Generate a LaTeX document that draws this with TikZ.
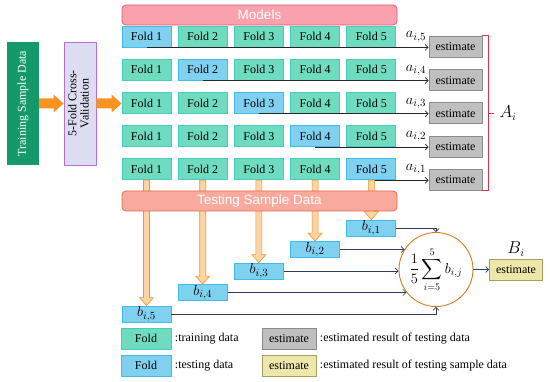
\documentclass[tikz,border=0pt]{standalone}
\usepackage{amsmath}
\usepackage{fontspec}
\setmainfont{Liberation Serif}
\newfontfamily\arialfont{Liberation Sans}
\usetikzlibrary{arrows.meta,calc}
\definecolor{foldgreen}{HTML}{6FDCBF}
\definecolor{foldgreenb}{HTML}{45CCC4}
\definecolor{foldblue}{HTML}{80D0F0}
\definecolor{foldblueb}{HTML}{3DBDE8}
\definecolor{estgray}{HTML}{BFBFBF}
\definecolor{estgrayb}{HTML}{8C8C8C}
\definecolor{estyel}{HTML}{EDE7A9}
\definecolor{estyelb}{HTML}{A39C63}
\definecolor{modpink}{HTML}{F9A1AC}
\definecolor{modpinkb}{HTML}{E8596B}
\definecolor{testsal}{HTML}{F9AA9C}
\definecolor{testsalb}{HTML}{E26A52}
\definecolor{tsdgreen}{HTML}{15996A}
\definecolor{cvlav}{HTML}{DCDDF0}
\definecolor{cvpurp}{HTML}{B46FD8}
\definecolor{arrorange}{HTML}{F7931E}
\definecolor{lineblue}{HTML}{2F3E63}
\definecolor{bracketred}{HTML}{DE3049}
% solid orange arrow pointing right, from #1 to #2
\newcommand\solidright[2]{%
  \fill[arrorange] let \p1=(#1), \p2=(#2) in
    (\x1,\y1+5pt) -- (\x2-10pt,\y1+5pt) -- (\x2-10pt,\y1+9pt) -- (\x2,\y1)
    -- (\x2-10pt,\y1-9pt) -- (\x2-10pt,\y1-5pt) -- (\x1,\y1-5pt) -- cycle;}
% light block arrow pointing down, from #1 to #2
\newcommand\blockdown[2]{%
  \draw[blockarr] let \p1=(#1), \p2=(#2) in
    (\x1-3pt,\y1) -- (\x1-3pt,\y2+8pt) -- (\x1-7pt,\y2+8pt) -- (\x1,\y2)
    -- (\x1+7pt,\y2+8pt) -- (\x1+3pt,\y2+8pt) -- (\x1+3pt,\y1) -- cycle;}
\begin{document}
\begin{tikzpicture}[x=1pt,y=-1pt,font=\fontsize{12}{14}\selectfont,
  fold/.style={draw=foldgreenb,fill=foldgreen,line width=0.8pt,minimum width=49pt,minimum height=21pt,inner sep=0pt},
  testfold/.style={fold,draw=foldblueb,fill=foldblue},
  bbox/.style={testfold,minimum height=16pt,font=\fontsize{15}{17}\selectfont},
  est/.style={draw=estgrayb,fill=estgray,line width=0.8pt,minimum width=53pt,minimum height=21pt,inner sep=0pt},
  estfinal/.style={est,draw=estyelb,fill=estyel},
  bar/.style={rounded corners=4pt,line width=0.8pt,minimum width=275pt,minimum height=20pt,text=white,font=\arialfont\fontsize{13.5}{15}\selectfont},
  mathlab/.style={font=\fontsize{15}{17}\selectfont,inner sep=1pt},
  conn/.style={-{Straight Barb[length=3pt,width=6pt]},line width=0.7pt,lineblue},
  rowconn/.style={conn,black!85},
  blockarr/.style={draw=arrorange,fill=arrorange!40!white,line width=0.6pt}]
\useasboundingbox (0,0) rectangle (550,382);
% input data and cross-validation
\node[fill=tsdgreen,text=white,minimum width=32pt,minimum height=123pt,inner sep=0pt] (tsd) at (23,103.5) {\rotatebox{90}{Training Sample Data}};
\node[fill=cvlav,draw=cvpurp,line width=0.9pt,minimum width=32pt,minimum height=123pt,inner sep=0pt] (cv) at (80,103.5)
  {\rotatebox{90}{\fontsize{12}{12.5}\selectfont\begin{tabular}{@{}c@{}}5-Fold Cross-\\Validation\end{tabular}}};
% folds: row r tests on fold r
\foreach \r in {1,...,5}{
  \foreach \c in {1,...,5}{
    \pgfmathsetmacro\xx{146.5+56.2*(\c-1)}
    \pgfmathsetmacro\yy{36.5+33.2*(\r-1)}
    \ifnum\c=\r \def\sty{testfold}\else\def\sty{fold}\fi
    \node[\sty] (f\r\c) at (\xx,\yy) {Fold \c};}}
\solidright{tsd.east}{cv.west}
\solidright{cv.east}{f31.west}
\node[bar,fill=modpink,draw=modpinkb] (mod) at (259.5,15) {Models};
% estimates a_{i,k}
\foreach \r [evaluate=\r as \k using int(6-\r)] in {1,...,5}{
  \pgfmathsetmacro\yy{47+33.2*(\r-1)}
  \node[est] (e\r) at (455.5,\yy) {estimate};
  \draw[rowconn] (f\r\r.south) -- (f\r\r.south -| e\r.west);
  \node[mathlab] (a\r) at (416,\yy-10) {$a_{i,\k}$};}
\draw[bracketred,line width=0.9pt] (482,35) -- (488,35) -- (488,190) -- (482,190) (488,113) -- (494,113);
\node[mathlab,font=\fontsize{16}{18}\selectfont] (Ai) at (508,113) {$A_i$};
% testing sample data -> b_{i,k}
\foreach \k in {1,...,5}{
  \pgfmathsetmacro\xx{146.5+56.2*(5-\k)}
  \pgfmathsetmacro\yy{228+21.5*(\k-1)}
  \node[bbox] (b\k) at (\xx,\yy) {$b_{i,\k}$};}
\foreach \k [evaluate=\k as \c using int(6-\k)] in {1,...,5}{
  \blockdown{f5\c.south}{b\k.north}}
\node[bar,fill=testsal,draw=testsalb] (tsb) at (259.5,201) {Testing Sample Data};
% average
\node[circle,draw=arrorange!85!black,line width=0.9pt,minimum size=74pt,inner sep=0pt,font=\fontsize{14}{16}\selectfont] (sum) at (436,269.5)
  {$\displaystyle\frac{1}{5}\sum_{i=5}^{5} b_{i,j}$};
\draw[conn] (b1.east) -| (sum.north);
\draw[conn] (b2.east) -- (b2.east -| sum.147);
\draw[conn] (b3.east) -- (b3.east -| sum.west);
\draw[conn] (b4.east) -- (b4.east -| sum.218);
\draw[conn] (b5.east) -| (sum.south);
\node[estfinal] (fin) at (516,269.5) {estimate};
\node[mathlab,font=\fontsize{16}{18}\selectfont] (Bi) at (516,249) {$B_i$};
\draw[conn] (sum.east) -- (fin.west);
% legend
\node[fold,minimum width=50pt] (lg1) at (146,338.5) {Fold};
\node[anchor=west] (lt1) at (lg1.east) {:training data};
\node[testfold,minimum width=50pt] (lg2) at (146,365.5) {Fold};
\node[anchor=west] (lt2) at (lg2.east) {:testing data};
\node[est,minimum width=54pt] (lg3) at (289,338.5) {estimate};
\node[anchor=west] (lt3) at (lg3.east) {:estimated result of testing data};
\node[estfinal,minimum width=54pt] (lg4) at (289,365.5) {estimate};
\node[anchor=west] (lt4) at (lg4.east) {:estimated result of testing sample data};
\end{tikzpicture}
\end{document}
